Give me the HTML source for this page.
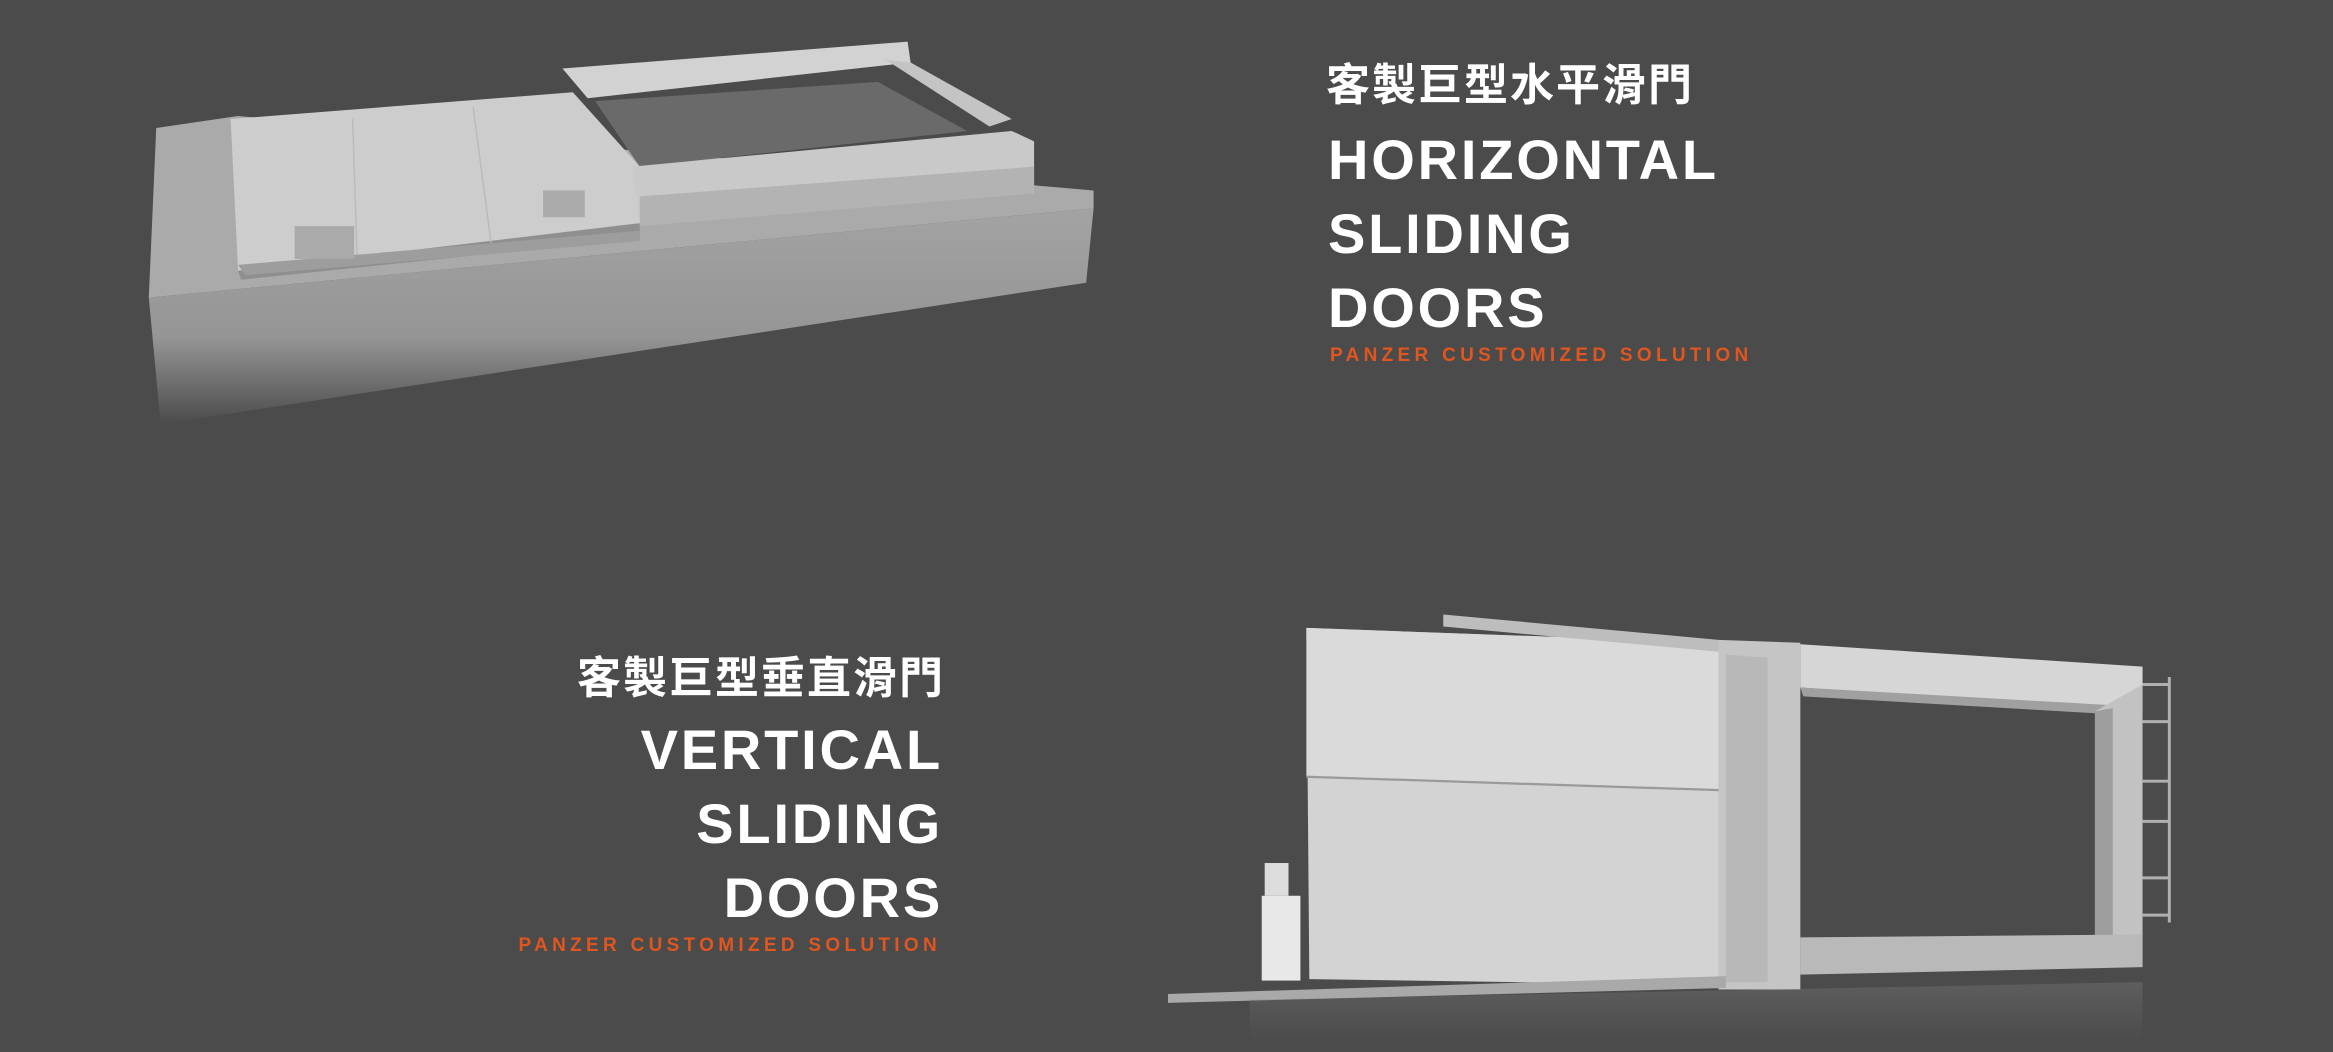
<!DOCTYPE html>
<html><head><meta charset="utf-8"><style>
html,body{margin:0;padding:0;background:#4b4b4b;}
body{width:2333px;height:1052px;position:relative;overflow:hidden;font-family:"Liberation Sans","Noto Sans CJK TC",sans-serif;}
svg{position:absolute;left:0;top:0;}
.t{position:absolute;color:#fff;font-weight:bold;white-space:nowrap;}
.cn{font-size:44px;font-weight:bold;letter-spacing:2px;line-height:44px;}
.en{font-size:56px;letter-spacing:2.8px;line-height:56px;}
.or{font-size:19px;color:#e0561e;letter-spacing:4.3px;line-height:19px;}
</style></head><body>
<svg width="2333" height="1052" viewBox="0 0 1568 707" preserveAspectRatio="none">
<defs>
<linearGradient id="conc" x1="0" y1="0" x2="0" y2="1">
<stop offset="0" stop-color="#a3a3a3"/><stop offset="0.6" stop-color="#959595"/><stop offset="1" stop-color="#4b4b4b"/></linearGradient>
<linearGradient id="fade" x1="0" y1="0" x2="0" y2="1">
<stop offset="0" stop-color="#7a7a7a"/><stop offset="1" stop-color="#4b4b4b"/></linearGradient>
</defs>
<polygon points="105,86 160,78 735,128 735,140 100,200" fill="#aaaaaa"/>
<polygon points="100,200 735,140 730,190 108,285" fill="url(#conc)"/>
<polygon points="155,80 385,62 430,112 430,150 160,182" fill="#cdcdcd"/>
<polygon points="160,182 430,150 430,160 162,188" fill="#8f8f8f"/>
<line x1="237" y1="80" x2="240" y2="173" stroke="#bbb" stroke-width="1"/>
<line x1="318" y1="72" x2="330" y2="163" stroke="#bbb" stroke-width="1"/>
<polygon points="400,68 590,55 650,88 430,112" fill="#6a6a6a"/>
<polygon points="378,46 610,28 612,42 395,66" fill="#d2d2d2"/>
<polygon points="595,40 612,42 680,80 665,85" fill="#c4c4c4"/>
<polygon points="425,112 680,88 695,95 695,130 430,150" fill="#c9c9c9"/>
<polygon points="430,132 695,112 695,130 430,152" fill="#b3b3b3"/>
<polygon points="160,178 430,155 430,162 165,185" fill="#9d9d9d"/>
<rect x="198" y="152" width="40" height="22" fill="#aaa"/>
<rect x="365" y="128" width="28" height="18" fill="#aaa"/>
<polygon points="878,422 1155,432 1155,662 880,658" fill="#d3d3d3"/>
<polygon points="878,422 1155,432 1155,530 878,522" fill="#dadada"/>
<line x1="878" y1="522" x2="1155" y2="531" stroke="#9a9a9a" stroke-width="1.5"/>
<polygon points="970,413 1155,430 1155,438 970,421" fill="#bdbdbd"/>
<polygon points="1155,430 1210,432 1210,665 1155,665" fill="#c5c5c5"/>
<polygon points="1160,440 1188,442 1188,660 1160,660" fill="#b8b8b8"/>
<polygon points="1210,433 1440,448 1440,478 1210,462" fill="#d6d6d6"/>
<polygon points="1210,462 1420,474 1420,480 1212,468" fill="#a0a0a0"/>
<polygon points="1408,478 1440,460 1440,650 1408,648" fill="#c2c2c2"/>
<polygon points="1408,478 1420,476 1420,648 1408,648" fill="#9e9e9e"/>
<g stroke="#b0b0b0" stroke-width="2" fill="none">
<line x1="1458" y1="455" x2="1458" y2="620"/>
<line x1="1440" y1="460" x2="1458" y2="460"/><line x1="1440" y1="485" x2="1458" y2="485"/>
<line x1="1440" y1="525" x2="1458" y2="525"/><line x1="1440" y1="552" x2="1458" y2="552"/>
<line x1="1440" y1="590" x2="1458" y2="590"/><line x1="1440" y1="615" x2="1458" y2="615"/>
</g>
<polygon points="1210,630 1440,628 1440,650 1210,655" fill="#b9b9b9"/>
<rect x="850" y="580" width="16" height="22" fill="#ddd"/>
<rect x="848" y="602" width="26" height="57" fill="#e8e8e8"/>
<polygon points="785,668 1160,656 1160,664 785,674" fill="#a9a9a9"/>
<polygon points="840,672 1440,660 1440,700 840,700" fill="url(#fade)" opacity="0.4"/>
</svg>
<div class="t cn" style="left:1326px;top:64px;">客製巨型水平滑門</div>
<div class="t en" style="left:1328px;top:132px;">HORIZONTAL</div>
<div class="t en" style="left:1328px;top:206px;">SLIDING</div>
<div class="t en" style="left:1328px;top:280px;">DOORS</div>
<div class="t or" style="left:1330px;top:346px;">PANZER CUSTOMIZED SOLUTION</div>
<div class="t cn" style="right:1388px;top:657px;">客製巨型垂直滑門</div>
<div class="t en" style="right:1390px;top:722px;">VERTICAL</div>
<div class="t en" style="right:1390px;top:796px;">SLIDING</div>
<div class="t en" style="right:1390px;top:870px;">DOORS</div>
<div class="t or" style="right:1392px;top:936px;">PANZER CUSTOMIZED SOLUTION</div>
</body></html>
